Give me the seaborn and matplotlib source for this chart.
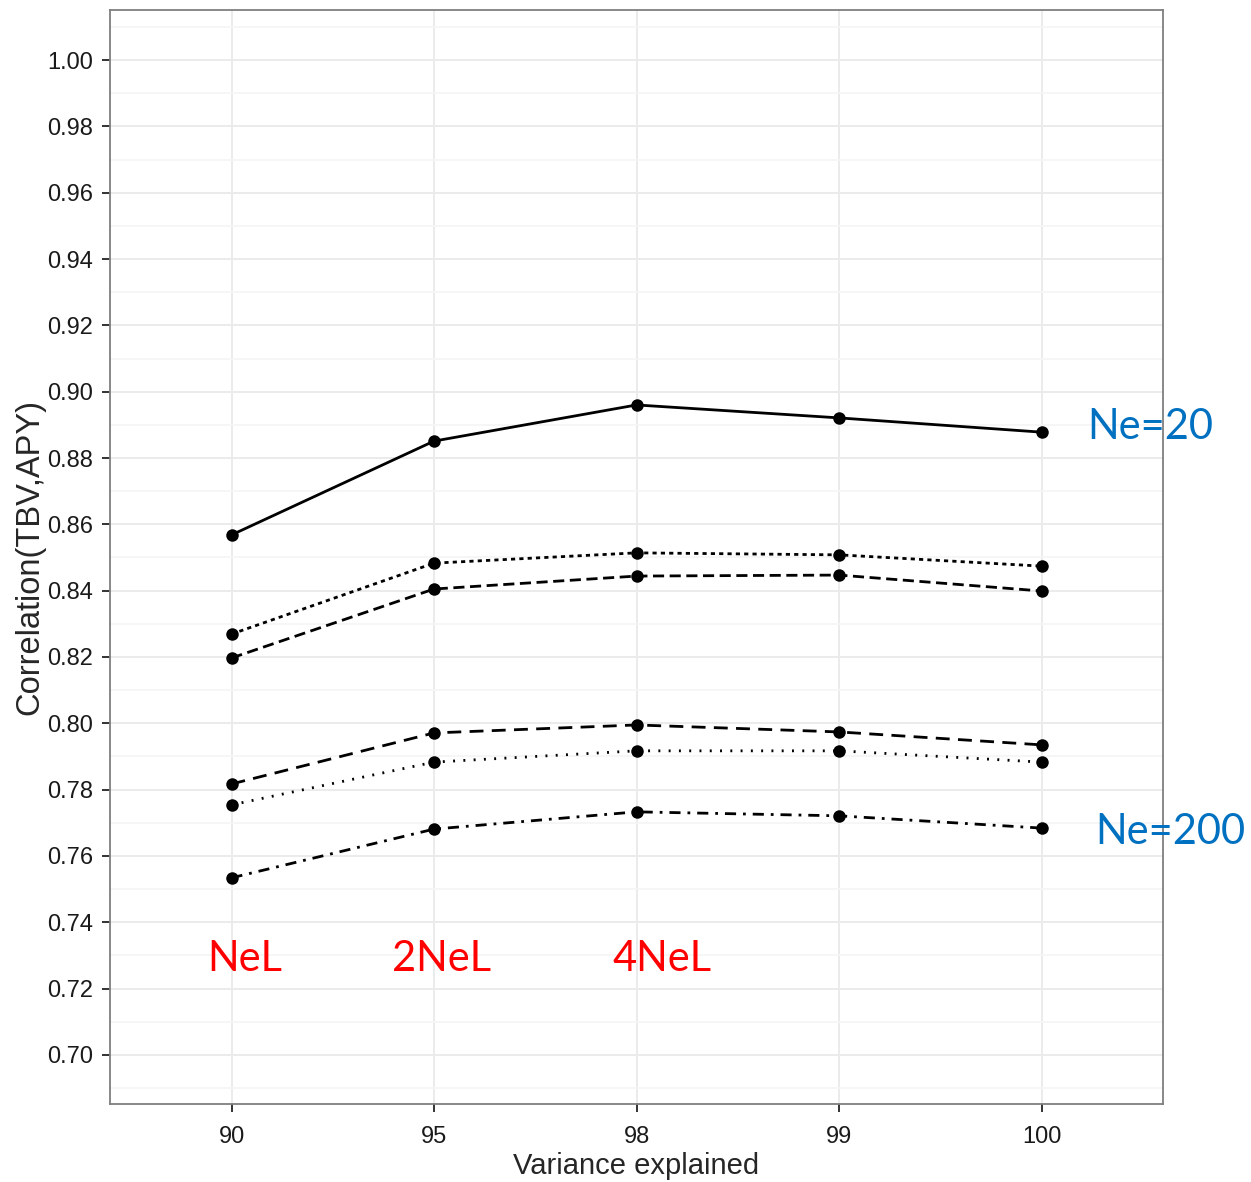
import pandas as pd
import matplotlib.pyplot as plt
import seaborn as sns
from matplotlib.ticker import MultipleLocator

# variance explained categories (x axis)
variance = ["90", "95", "98", "99", "100"]

# correlation values, top to bottom
ne20_solid = [0.8568, 0.8851, 0.8960, 0.8921, 0.8878]
short_dash = [0.8269, 0.8483, 0.8514, 0.8508, 0.8474]
mid_dash = [0.8197, 0.8405, 0.8444, 0.8447, 0.8399]
long_dash = [0.7817, 0.7971, 0.7995, 0.7974, 0.7935]
dotted = [0.7754, 0.7883, 0.7917, 0.7917, 0.7883]
ne200_dotdash = [0.7534, 0.7681, 0.7733, 0.7721, 0.7684]

series = {
    "a": ne20_solid,
    "b": short_dash,
    "c": mid_dash,
    "d": long_dash,
    "e": dotted,
    "f": ne200_dotdash,
}

rows = []
for name, vals in series.items():
    for v, c in zip(variance, vals):
        rows.append({"variance": v, "corr": c, "set": name})
df = pd.DataFrame(rows)

dash_styles = {
    "a": "",
    "b": (1.5, 1.5),
    "c": (4, 2),
    "d": (5, 3),
    "e": (0.7, 3.0),
    "f": (4, 2.5, 1, 2.5),
}

sns.set_theme(style="white")
plt.rcParams["font.family"] = ["Liberation Sans", "DejaVu Sans"]

fig = plt.figure(figsize=(12.51, 11.82), dpi=100)
ax = fig.add_axes([110 / 1251, 1 - 1104 / 1182, (1163 - 110) / 1251, (1104 - 10) / 1182])

sns.lineplot(data=df, x="variance", y="corr", style="set", dashes=dash_styles,
             color="black", linewidth=2.0, marker="o", markersize=9,
             markeredgewidth=0, legend=False, ax=ax, sort=False)

ax.set_xlim(-0.6, 4.6)
ax.set_ylim(0.6852, 1.0151)
ax.yaxis.set_major_locator(MultipleLocator(0.02))
ax.yaxis.set_minor_locator(MultipleLocator(0.01))
ax.yaxis.set_major_formatter(plt.FormatStrFormatter("%.2f"))

ax.grid(which="major", color="#EBEBEB", linewidth=1.4)
ax.grid(which="minor", axis="y", color="#F5F5F5", linewidth=1.2)
ax.set_axisbelow(True)
for s in ax.spines.values():
    s.set_color("#7F7F7F")
    s.set_linewidth(1.3)

ax.tick_params(axis="both", which="major", length=6, width=1.4, color="#333333",
               labelsize=17, labelcolor="#1a1a1a", left=True, bottom=True)
ax.tick_params(axis="y", which="major", pad=6)
ax.tick_params(axis="x", which="major", pad=10)
ax.tick_params(axis="y", which="minor", length=0)
ax.set_xlabel("Variance explained", fontsize=21, labelpad=3)
ax.set_ylabel("Correlation(TBV,APY)", fontsize=23.5, labelpad=1)

# overlay annotations
blue = "#0070C0"
red = "#FF0000"
lab = dict(family=["Lato", "DejaVu Sans"], fontsize=30, va="center")
fig.text(1087 / 1251, 1 - 427 / 1182, "Ne=20", color=blue, ha="left", **lab)
fig.text(1095 / 1251, 1 - 832 / 1182, "Ne=200", color=blue, ha="left", **lab)
fig.text(207 / 1251, 1 - 959 / 1182, "NeL", color=red, ha="left", **lab)
fig.text(392 / 1251, 1 - 959 / 1182, "2NeL", color=red, ha="left", **lab)
fig.text(612 / 1251, 1 - 959 / 1182, "4NeL", color=red, ha="left", **lab)

fig.savefig("out.png", dpi=100)
